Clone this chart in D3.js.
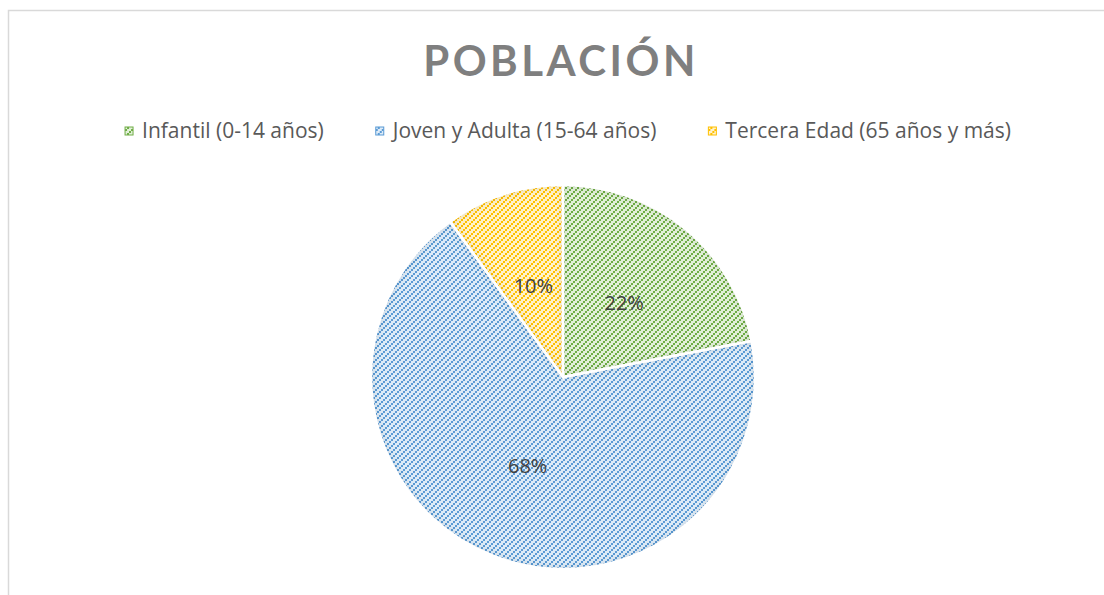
<!DOCTYPE html>
<html>
<head>
<meta charset="utf-8">
<script src="https://cdn.jsdelivr.net/npm/d3@7/dist/d3.min.js"></script>
<style>
  body { margin: 0; background: #fff; }
  svg { display: block; }
</style>
</head>
<body>
<svg id="chart" width="1104" height="595"></svg>
<script>
// data
var categories = ['Infantil (0-14 años)', 'Joven y Adulta (15-64 años)', 'Tercera Edad (65 años y más)'];
var values = [22, 68, 10];
var labels = ['22%', '68%', '10%'];
var title = 'POBLACIÓN';

var fgColors = ['#70ad47', '#5b9bd5', '#ffc000'];
var bgColors = ['#e2f0d9', '#deebf7', '#fff2cc'];

var svg = d3.select('#chart');
var width = 1104, height = 595;
var font = '"Open Sans", Lato, sans-serif';

var defs = svg.append('defs');

// blocky up-diagonal stripes, one pattern per slice
fgColors.forEach(function(c, i) {
    var p = defs.append('pattern')
        .attr('id', 'stripe' + i)
        .attr('patternUnits', 'userSpaceOnUse')
        .attr('width', 6)
        .attr('height', 6);
    p.append('rect').attr('width', 6).attr('height', 6).attr('fill', bgColors[i]);
    [[0, 4], [2, 2], [4, 0]].forEach(function(b) {
        p.append('rect').attr('x', b[0]).attr('y', b[1]).attr('width', 2).attr('height', 2).attr('fill', c);
    });
});

// soft inner shadow on the slices
var f = defs.append('filter')
    .attr('id', 'inner')
    .attr('x', '-10%').attr('y', '-10%')
    .attr('width', '120%').attr('height', '120%');
f.append('feComponentTransfer').attr('in', 'SourceAlpha').attr('result', 'inv')
    .append('feFuncA').attr('type', 'table').attr('tableValues', '1 0');
f.append('feGaussianBlur').attr('in', 'inv').attr('stdDeviation', 5).attr('result', 'blur');
f.append('feFlood').attr('flood-color', '#000').attr('flood-opacity', 0.3);
f.append('feComposite').attr('in2', 'blur').attr('operator', 'in');
f.append('feComposite').attr('in2', 'SourceAlpha').attr('operator', 'in').attr('result', 'shadow');
var merge = f.append('feMerge');
merge.append('feMergeNode').attr('in', 'SourceGraphic');
merge.append('feMergeNode').attr('in', 'shadow');

// chart border (runs off the right and bottom)
svg.append('path')
    .attr('d', 'M8.5,' + height + 'V10.5H' + width)
    .attr('fill', 'none')
    .attr('stroke', '#d9d9d9')
    .attr('stroke-width', 1.5);

// title
svg.append('text')
    .attr('x', 561)
    .attr('y', 76)
    .attr('text-anchor', 'middle')
    .style('font-family', 'Lato, sans-serif')
    .style('font-weight', 'bold')
    .style('font-size', '42px')
    .style('letter-spacing', '3.5px')
    .attr('fill', '#7f7f7f')
    .text(title);

// legend
var legend = svg.append('g');
var items = legend.selectAll('g.item')
    .data(categories)
    .enter().append('g')
    .attr('class', 'item');

items.append('rect')
    .attr('width', 8)
    .attr('height', 8)
    .attr('y', -4)
    .attr('fill', function(d, i) { return 'url(#stripe' + i + ')'; })
    .attr('stroke', function(d, i) { return fgColors[i]; })
    .attr('stroke-width', 1);

items.append('text')
    .attr('x', 17)
    .attr('dy', '0.35em')
    .style('font-family', font)
    .style('font-size', '21px')
    .attr('fill', '#595959')
    .text(function(d) { return d; });

var gap = 52, offs = [], total = 0;
items.each(function(d, i) {
    var w = 17 + this.querySelector('text').getComputedTextLength();
    offs.push(total);
    total += w + (i < categories.length - 1 ? gap : 0);
});
var lx = 568 - total / 2;
items.attr('transform', function(d, i) { return 'translate(' + (lx + offs[i]) + ',131)'; });

// pie
var cx = 563, cy = 377, radius = 192;
var pie = d3.pie().sort(null).value(function(d) { return d; });
var arc = d3.arc().innerRadius(0).outerRadius(radius);
var labelArc = d3.arc().innerRadius(radius * 0.5).outerRadius(radius * 0.5);

var g = svg.append('g').attr('transform', 'translate(' + cx + ',' + cy + ')');
var arcs = pie(values);

g.selectAll('path.slice')
    .data(arcs)
    .enter().append('path')
    .attr('class', 'slice')
    .attr('d', arc)
    .attr('fill', function(d, i) { return 'url(#stripe' + i + ')'; })
    .attr('filter', 'url(#inner)');

g.selectAll('path.edge')
    .data(arcs)
    .enter().append('path')
    .attr('class', 'edge')
    .attr('d', arc)
    .attr('fill', 'none')
    .attr('stroke', '#fff')
    .attr('stroke-width', 2.5);

g.selectAll('text.lbl')
    .data(arcs)
    .enter().append('text')
    .attr('class', 'lbl')
    .attr('transform', function(d) { return 'translate(' + labelArc.centroid(d) + ')'; })
    .attr('text-anchor', 'middle')
    .attr('dy', '0.35em')
    .style('font-family', font)
    .style('font-size', '20px')
    .attr('fill', '#404040')
    .text(function(d, i) { return labels[i]; });
</script>
</body>
</html>
